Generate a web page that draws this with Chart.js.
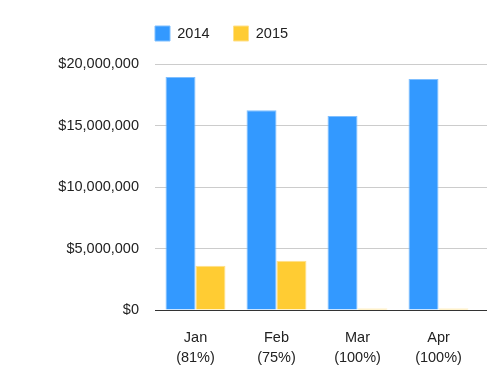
<!DOCTYPE html>
<html>
<head>
<meta charset="utf-8">
<script src="https://cdn.jsdelivr.net/npm/chart.js@4"></script>
<style>
html,body{margin:0;padding:0;background:#fff;}
#wrap{width:487px;height:367px;position:relative;}
</style>
</head>
<body>
<div id="wrap"><canvas id="c" width="487" height="367"></canvas></div>
<script>
const categories = [["Jan","(81%)"],["Feb","(75%)"],["Mar","(100%)"],["Apr","(100%)"]];
const seriesNames = ["2014","2015"];
const values2014 = [18950000, 16250000, 15780000, 18780000];
const values2015 = [3600000, 4000000, 120000, 120000];
const yTicks = [0, 5000000, 10000000, 15000000, 20000000];

const FONT = "'Liberation Sans', Arial, Helvetica, sans-serif";
const FS = 14.5;

function alignPx(p) { return Math.round(p - 0.5) + 0.5; }

const extendGrid = {
  id: 'extendGrid',
  afterLayout(chart) {
    const l = chart.legend;
    if (l) {
      l.left -= 24; l.right -= 24;
      l.top -= 13; l.bottom -= 13;
    }
  },
  beforeDatasetsDraw(chart) {
    const ctx = chart.ctx, y = chart.scales.y, a = chart.chartArea;
    ctx.save();
    ctx.strokeStyle = '#cccccc';
    ctx.lineWidth = 1;
    yTicks.forEach(v => {
      if (v === 0) return;
      const py = alignPx(y.getPixelForValue(v));
      ctx.beginPath();
      ctx.moveTo(a.right, py);
      ctx.lineTo(chart.width, py);
      ctx.stroke();
    });
    const p0 = alignPx(a.bottom);
    ctx.strokeStyle = '#333333';
    ctx.beginPath();
    ctx.moveTo(a.right, p0);
    ctx.lineTo(chart.width, p0);
    ctx.stroke();
    ctx.restore();
  }
};

new Chart(document.getElementById('c'), {
  type: 'bar',
  data: {
    labels: categories,
    datasets: [
      { label: seriesNames[0], data: values2014, backgroundColor: '#3399ff', borderColor: '#7fbfff', borderWidth: 1 },
      { label: seriesNames[1], data: values2015, backgroundColor: '#ffcc33', borderColor: '#ffe08a', borderWidth: 1 }
    ]
  },
  options: {
    responsive: false,
    animation: false,
    devicePixelRatio: 1,
    layout: { padding: { left: 0, right: 8, top: 15, bottom: 0 } },
    datasets: { bar: { barPercentage: 1.0, categoryPercentage: 0.74 } },
    plugins: {
      tooltip: { enabled: false },
      legend: {
        position: 'top',
        align: 'start',
        fullSize: false,
        labels: {
          boxWidth: 15,
          boxHeight: 15,
          padding: 24,
          color: '#222222',
          font: { family: FONT, size: FS }
        }
      }
    },
    scales: {
      x: {
        afterFit(scale) { scale.height = 57; },
        grid: { display: false, drawTicks: false },
        border: { display: true, color: '#333333', width: 1 },
        ticks: {
          color: '#222222',
          font: { family: FONT, size: FS, lineHeight: 20 / FS },
          padding: 18,
          maxRotation: 0
        }
      },
      y: {
        min: 0,
        max: 20000000,
        afterBuildTicks(scale) { scale.ticks = yTicks.map(v => ({ value: v })); },
        afterFit(scale) { scale.width = 155; },
        grid: { color: '#cccccc', drawTicks: false },
        border: { display: false },
        ticks: {
          padding: 16,
          color: '#222222',
          font: { family: FONT, size: FS },
          callback: v => '$' + Number(v).toLocaleString('en-US')
        }
      }
    }
  },
  plugins: [extendGrid]
});
</script>
</body>
</html>
